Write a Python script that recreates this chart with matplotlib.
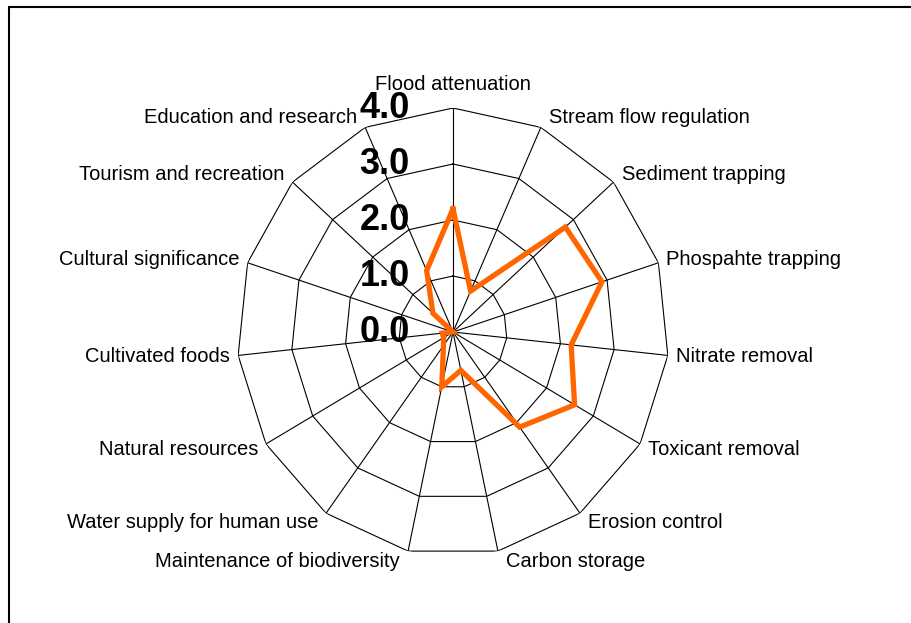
#!/usr/bin/env python3
import numpy as np
import matplotlib
matplotlib.use("Agg")
import matplotlib.pyplot as plt
from matplotlib.patches import Rectangle

plt.rcParams['font.family'] = ['Liberation Sans', 'DejaVu Sans']

# wetland functions, clockwise from the top
categories = [
    "Flood attenuation", "Stream flow regulation", "Sediment trapping",
    "Phospahte trapping", "Nitrate removal", "Toxicant removal",
    "Erosion control", "Carbon storage", "Maintenance of biodiversity",
    "Water supply for human use", "Natural resources", "Cultivated foods",
    "Cultural significance", "Tourism and recreation", "Education and research",
]
scores = [2.2, 0.8, 2.8, 2.9, 2.2, 2.6, 2.1, 0.7, 1.0, 0.3, 0.2, 0.2, 0.0, 0.5, 1.2]
r_ticks = [0, 1, 2, 3, 4]

fig = plt.figure(figsize=(9.11, 6.23), dpi=100)
ax = fig.add_axes([237/911, 67/623, 432/911, 448/623], projection='polar')
ax.set_aspect('auto')
ax.set_theta_zero_location('N')
ax.set_theta_direction(-1)

angles = np.linspace(0, 2*np.pi, len(categories), endpoint=False)
closed = np.append(angles, angles[0])

ax.set_ylim(0, max(r_ticks))
ax.set_xticks(angles)
ax.set_xticklabels([])
ax.set_yticks([])
ax.xaxis.grid(True, color='black', lw=0.8, linestyle='-')
ax.spines['polar'].set_visible(False)

# excel style polygon rings
for r in r_ticks[1:]:
    ax.plot(closed, [r]*len(closed), color='black', lw=0.8, zorder=1)

ax.plot(closed, scores + scores[:1], color='#ff6600', lw=3.8,
        solid_joinstyle='miter', zorder=3)

for r in r_ticks:
    ax.annotate(f"{r:.1f}", xy=(0, r), xytext=(-31, 0), textcoords='offset points',
                ha='right', va='center', fontsize=26, fontweight='bold')

for ang, name in zip(angles, categories):
    s, c = np.sin(ang), np.cos(ang)
    if abs(s) < 0.01:
        ha, dx, dy = 'center', 0, 23
    else:
        ha = 'left' if s > 0 else 'right'
        dx, dy = 8*np.sign(s), 11*c
    ax.annotate(name, xy=(ang, 4), xytext=(dx*0.72, dy*0.72), textcoords='offset points',
                ha=ha, va='center', fontsize=14.5)

fig.add_artist(Rectangle((9/911, -0.5), 2, 0.5 + 1 - 7/623, transform=fig.transFigure,
                         fill=False, lw=1.5, ec='black'))

fig.savefig("out.png", dpi=100)
